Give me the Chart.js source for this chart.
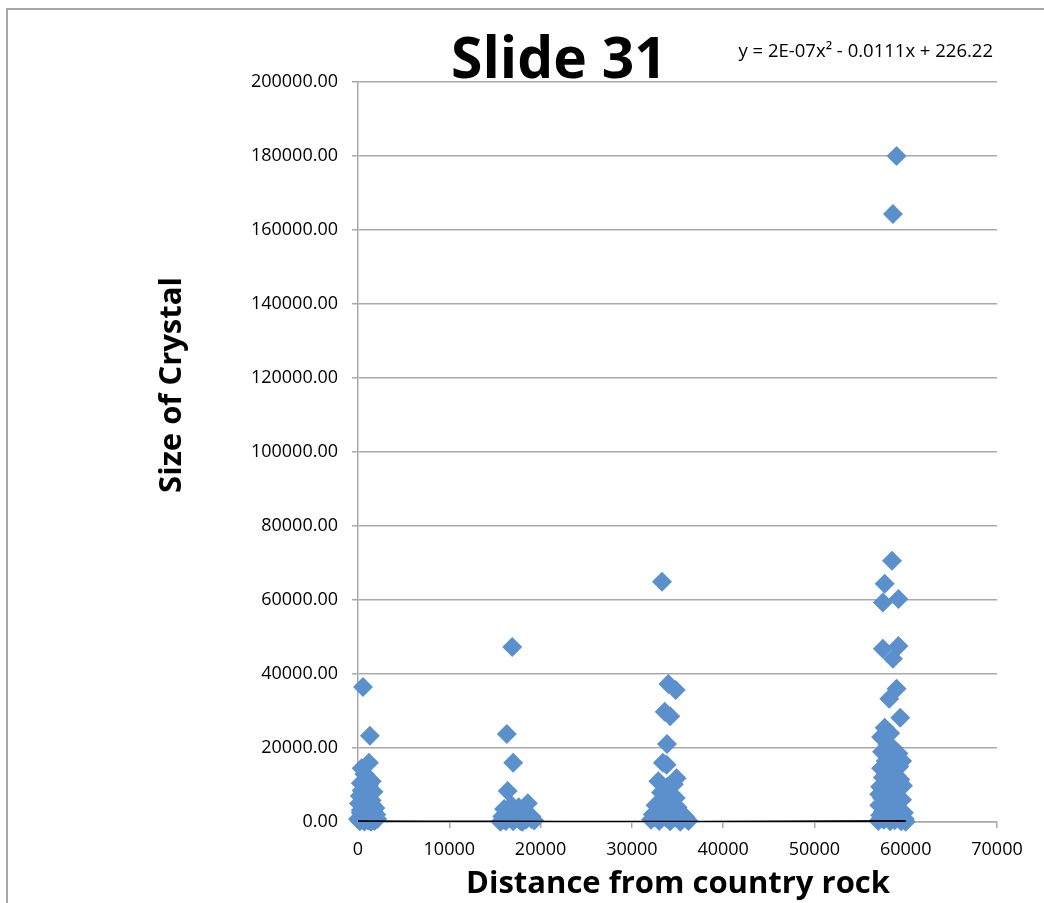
<!DOCTYPE html>
<html>
<head>
<meta charset="utf-8">
<script src="https://cdn.jsdelivr.net/npm/chart.js@4.4.1/dist/chart.umd.min.js"></script>
<style>
  html, body { margin: 0; padding: 0; background: #fff; }
  #wrap { position: relative; width: 1044px; height: 903px; }
</style>
</head>
<body>
<div id="wrap"><canvas id="crystalChart"></canvas></div>
<script>
// crystal size vs distance
const distances = [
    // near 0
    550, 1300, 1200, 400, 800, 1500, 300, 1000, 1700, 200, 900, 1500, 100, 700, 1900, 1200, 300, 2000, 800, 1500, 0, 500, 1100, 1800, 2100, 200, 1400, 700,
    600, 1300, 400, 1800, 1000, 1600, 300, 1200, 700,
    // near 17000
    16900, 16300, 17000, 16400, 18600, 16000, 17200, 18000, 19000, 15800, 16700, 17600, 18400, 19300, 16200, 17000, 18000, 15600,
    16500, 17500, 18300, 15900, 17800, 19000, 16800, 17600,
    // near 34000
    33300, 34000, 34800, 33600, 34200, 33850, 33400, 33800, 34900, 34600, 33200, 33600, 34300, 32600, 35000, 33000, 34000, 35500, 32300, 33500, 34700, 36000, 32100, 33000, 34200, 35300, 36200, 32800,
    33800, 34500, 35800, 32500, 33300, 34800, 33900, 32900, 35200,
    // near 58000
    59000, 58600, 58500, 57700, 57500, 59200, 57500, 59200, 58600, 59000, 58200, 59400,
    57700, 57300, 58000, 57400, 58400, 57800, 59600, 59300, 57300, 58200, 57500, 59400, 58500, 57200, 59000, 57900, 58700, 57400, 59600, 58200, 57100, 59100, 58000, 57500, 59800, 58600, 57200, 59300, 58000, 57600, 58800, 59900, 57000, 58300, 59500, 60000,
    58800, 58000, 59000, 57800, 58500, 59700, 57100, 58300, 58600, 59200
];
const crystalSizes = [
    36500, 23300, 16000, 14500, 12800, 11000, 10500, 9000, 8200, 7000, 6500, 5800, 5000, 4200, 3800, 3000, 2500, 2000, 1600, 1200, 800, 600, 400, 300, 800, 200, 100, 150,
    3500, 6000, 8500, 1000, 2000, 4500, 3200, 10000, 13000,
    47300, 23800, 16000, 8400, 5100, 3500, 3000, 2500, 1500, 1500, 1000, 800, 600, 400, 300, 200, 100, 100,
    2000, 1800, 3000, 600, 300, 800, 4500, 4000,
    64900, 37300, 35700, 29800, 28600, 21100, 16000, 15500, 11800, 10200, 8000, 6000, 5500, 4500, 4000, 3200, 2800, 2200, 2000, 1500, 1200, 800, 600, 300, 200, 100, 300, 900,
    1000, 2500, 1500, 1300, 4000, 6500, 9500, 11000, 600,
    180000, 164300, 70600, 64400, 59300, 60300, 46800, 47600, 44100, 36000, 33300, 28200,
    25500, 23000, 21000, 19000, 18000, 16500, 16500, 15000, 14500, 13000, 12000, 11500, 10500, 9500, 9000, 8000, 7000, 6500, 6000, 5000, 4500, 4000, 3500, 2800, 2500, 2200, 1800, 1500, 1000, 600, 500, 800, 300, 200, 200, 100,
    3000, 6000, 12500, 10500, 15500, 9800, 7500, 24000, 20000, 18500
];

// polynomial trendline, sampled from the equation shown on the slide
const trendX = [0, 15000, 30000, 45000, 60000];
const trendY = [226, 105, 73, 131, 280];

const xTicks = [0, 10000, 20000, 30000, 40000, 50000, 60000, 70000];
const yTicks = [0, 20000, 40000, 60000, 80000, 100000, 120000, 140000, 160000, 180000, 200000];

const chartTitle = 'Slide 31';
const trendEquation = 'y = 2E-07x² - 0.0111x + 226.22';
const xTitle = 'Distance from country rock';
const yTitle = 'Size of Crystal';

const points = distances.map((x, i) => ({ x: x, y: crystalSizes[i] }));
const trendPoints = trendX.map((x, i) => ({ x: x, y: trendY[i] }));

const FONT = '"Open Sans", "DejaVu Sans", sans-serif';
const GRID = '#A9A9A9';

// frame + title + axis titles drawn by hand so they sit where the slide has them
const slideText = {
    id: 'slideText',
    beforeDraw(chart) {
        const ctx = chart.ctx;
        ctx.save();
        ctx.strokeStyle = '#A6A6A6';
        ctx.lineWidth = 2;
        ctx.beginPath();
        ctx.moveTo(7, 903);
        ctx.lineTo(7, 9);
        ctx.lineTo(1044, 9);
        ctx.stroke();
        ctx.restore();
    },
    afterDraw(chart) {
        const ctx = chart.ctx;
        ctx.save();
        ctx.fillStyle = '#000';

        ctx.font = 'bold 57px ' + FONT;
        ctx.textAlign = 'center';
        ctx.textBaseline = 'alphabetic';
        ctx.fillText(chartTitle, 559, 78);

        ctx.font = '18.5px ' + FONT;
        ctx.textAlign = 'right';
        ctx.fillText(trendEquation, 993, 57);

        ctx.font = 'bold 31px ' + FONT;
        ctx.textAlign = 'center';
        ctx.textBaseline = 'middle';
        ctx.fillText(xTitle, 678, 884);

        ctx.translate(172, 385);
        ctx.rotate(-Math.PI / 2);
        ctx.fillText(yTitle, 0, 0);
        ctx.restore();
    }
};

new Chart(document.getElementById('crystalChart').getContext('2d'), {
    type: 'scatter',
    data: {
        datasets: [{
            label: 'Trendline',
            type: 'line',
            data: trendPoints,
            borderColor: '#000',
            borderWidth: 2,
            pointRadius: 0,
            fill: false,
            tension: 0.4,
            order: 0
        }, {
            label: 'Size of Crystal',
            data: points,
            pointStyle: 'rectRot',
            pointRadius: 10,
            pointHoverRadius: 10,
            backgroundColor: '#5B90CC',
            borderColor: '#5B90CC',
            borderWidth: 0,
            clip: false,
            order: 1
        }]
    },
    options: {
        responsive: true,
        maintainAspectRatio: false,
        animation: false,
        layout: {
            padding: { top: 82, left: 150, right: 47, bottom: 0 }
        },
        plugins: {
            legend: { display: false },
            tooltip: { enabled: false }
        },
        scales: {
            x: {
                type: 'linear',
                min: 0,
                max: 70000,
                afterBuildTicks: function (scale) {
                    scale.ticks = xTicks.map(v => ({ value: v }));
                },
                afterFit: function (scale) { scale.height = 81; },
                grid: {
                    drawOnChartArea: false,
                    drawTicks: true,
                    tickLength: 6,
                    color: GRID,
                    lineWidth: 1.5
                },
                border: { display: true, color: GRID, width: 1.5 },
                ticks: {
                    padding: 11,
                    color: '#000',
                    font: { family: FONT, size: 18 },
                    maxRotation: 0,
                    callback: function (value) { return String(value); }
                }
            },
            y: {
                type: 'linear',
                min: 0,
                max: 200000,
                afterBuildTicks: function (scale) {
                    scale.ticks = yTicks.map(v => ({ value: v }));
                },
                afterFit: function (scale) { scale.width = 208; },
                grid: {
                    drawOnChartArea: true,
                    drawTicks: true,
                    tickLength: 6,
                    color: GRID,
                    lineWidth: 1.5
                },
                border: { display: true, color: GRID, width: 1.5 },
                ticks: {
                    padding: 14,
                    color: '#000',
                    font: { family: FONT, size: 18 },
                    callback: function (value) { return Number(value).toFixed(2); }
                }
            }
        }
    },
    plugins: [slideText]
});
</script>
</body>
</html>
